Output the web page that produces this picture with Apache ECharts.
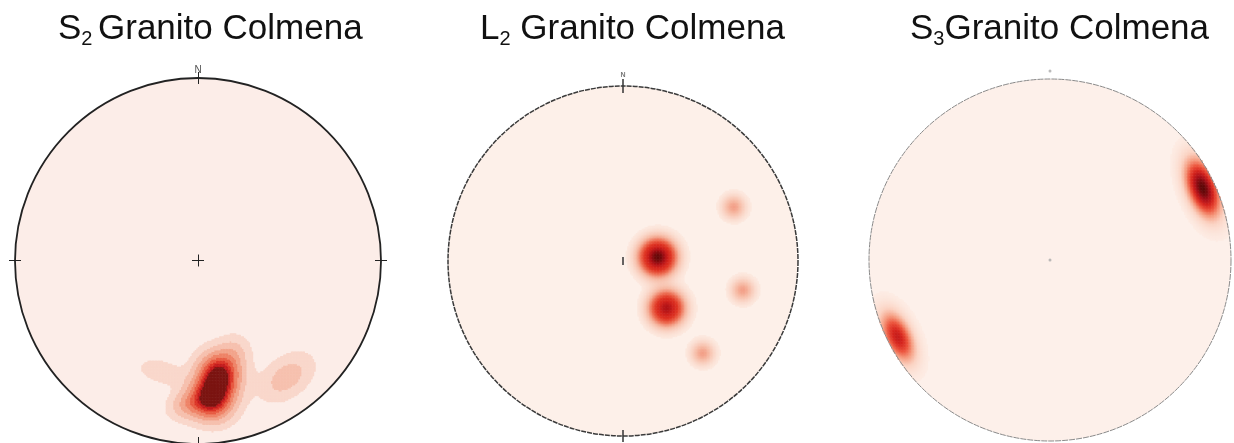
<!DOCTYPE html>
<html>
<head>
<meta charset="utf-8">
<title>Granito Colmena - stereonets</title>
<script src="https://cdn.jsdelivr.net/npm/echarts@6/dist/echarts.min.js"></script>
<style>
html, body { margin: 0; padding: 0; background: #fff; }
#main { width: 1234px; height: 443px; }
</style>
</head>
<body>
<div id="main"></div>
<script type="text/javascript">
// pole clusters read off the nets: [u, v, sigma along, sigma across, rotation deg, weight]
// u/v are unit-circle coords (centre 0,0, primitive circle radius 1, north up)
var s2Clusters = [
    [0.128, -0.581, 0.07, 0.08, 74, 1.0],
    [0.109, -0.652, 0.07, 0.08, 74, 1.0],
    [0.088, -0.725, 0.07, 0.08, 74, 1.0],
    [0.069, -0.794, 0.07, 0.08, 74, 1.0],
    [-0.055, -0.787, 0.075, 0.055, 20, 0.55],
    [0.202, -0.486, 0.06, 0.06, 0, 0.3],
    [-0.200, -0.610, 0.09, 0.045, -15, 0.3],
    [0.486, -0.639, 0.11, 0.07, 38, 0.5]
];
var l2Clusters = [
    [0.200, 0.023, 0.065, 0.065, 0, 1.0],
    [0.251, -0.269, 0.063, 0.063, 0, 0.8],
    [0.634, 0.309, 0.045, 0.045, 0, 0.22],
    [0.686, -0.166, 0.045, 0.045, 0, 0.22],
    [0.457, -0.526, 0.045, 0.045, 0, 0.22]
];
var s3Clusters = [
    [0.845, 0.398, 0.11, 0.055, 110, 1.0],
    [-0.840, -0.425, 0.10, 0.052, 115, 0.72]
];

// S2 is contoured in discrete levels (fraction of max density)
var s2Levels = [0.06, 0.15, 0.26, 0.37, 0.48, 0.58, 0.66, 0.74];
var s2Colors = ['#f9d7cb', '#f6c0ae', '#f2a48b', '#ee8367', '#e75b42', '#da3326', '#c11a1c', '#7b1411'];
// L2 and S3 are smooth
var l2Colors = ['#fdefe7', '#f6b9a3', '#ec6a4f', '#df3523', '#d0221c', '#a90f15', '#650808'];
var s3Colors = ['#fdefe8', '#fbd3c3', '#f59c80', '#ec553d', '#d5241d', '#a8101a', '#5c0707'];

var N = 240;
var cats = [];
for (var k = 0; k < N; k++) cats.push(String(k));

function density(clusters, u, v) {
    var s = 0;
    for (var i = 0; i < clusters.length; i++) {
        var c = clusters[i];
        var t = c[4] * Math.PI / 180;
        var dx = u - c[0], dy = v - c[1];
        var a = dx * Math.cos(t) + dy * Math.sin(t);
        var b = -dx * Math.sin(t) + dy * Math.cos(t);
        s += c[5] * Math.exp(-0.5 * (a * a / (c[2] * c[2]) + b * b / (c[3] * c[3])));
    }
    return s;
}

function densityCells(clusters, minLevel) {
    var raw = [], max = 0;
    for (var i = 0; i < N; i++) {
        for (var j = 0; j < N; j++) {
            var u = -1 + (i + 0.5) * 2 / N, v = -1 + (j + 0.5) * 2 / N;
            if (u * u + v * v > 1) continue;
            var d = density(clusters, u, v);
            if (d > max) max = d;
            raw.push([i, j, d]);
        }
    }
    var out = [];
    raw.forEach(function (c) {
        var val = c[2] / max;
        if (val >= minLevel) out.push([c[0], c[1], +val.toFixed(4)]);
    });
    return out;
}

var nets = [
    {cx: 198, cy: 261, r: 183, bg: '#fcede8', ring: '#222', ringW: 1.8, ringType: 'solid'},
    {cx: 623, cy: 261, r: 175, bg: '#fdf0e9', ring: '#3a3a3a', ringW: 1.5, ringType: [5, 1]},
    {cx: 1050, cy: 260, r: 181, bg: '#fdf0ea', ring: '#8a8a8a', ringW: 1, ringType: [6, 1]}
];

// short segments crossing the primitive / centre cross, half length in px
function tickSegs(net, marks) {
    var out = [];
    marks.forEach(function (m) {
        var h = m[2] / net.r;
        if (m[3] === 'v') out.push({coords: [[m[0], m[1] - h], [m[0], m[1] + h]]});
        else out.push({coords: [[m[0] - h, m[1]], [m[0] + h, m[1]]]});
    });
    return out;
}

var grid = [], xAxis = [], yAxis = [], polar = [], radiusAxis = [], angleAxis = [];
nets.forEach(function (n, k) {
    var rect = {left: n.cx - n.r, top: n.cy - n.r, width: 2 * n.r, height: 2 * n.r};
    grid.push(rect, Object.assign({}, rect));
    xAxis.push({type: 'category', gridIndex: 2 * k, data: cats, show: false},
               {type: 'value', gridIndex: 2 * k + 1, min: -1, max: 1, show: false});
    yAxis.push({type: 'category', gridIndex: 2 * k, data: cats, show: false},
               {type: 'value', gridIndex: 2 * k + 1, min: -1, max: 1, show: false});
    polar.push({center: [n.cx, n.cy], radius: n.r});
    radiusAxis.push({
        polarIndex: k, min: 0, max: 1, interval: 1, z: 0,
        axisLine: {show: false}, axisTick: {show: false}, axisLabel: {show: false},
        splitLine: {show: false},
        splitArea: {show: true, areaStyle: {color: [n.bg]}}
    });
    angleAxis.push({
        polarIndex: k, min: 0, max: 360, startAngle: 90, z: 10,
        axisLine: {show: true, lineStyle: {color: n.ring, width: n.ringW, type: n.ringType}},
        axisTick: {show: false}, axisLabel: {show: false}, splitLine: {show: false}
    });
});

var s2Pieces = s2Levels.map(function (lv, i) {
    return {gte: lv, lt: i < s2Levels.length - 1 ? s2Levels[i + 1] : 1.01, color: s2Colors[i]};
});

function heat(k, clusters, minLevel) {
    return {
        type: 'heatmap', xAxisIndex: 2 * k, yAxisIndex: 2 * k, z: 2,
        progressive: 0, silent: true,
        data: densityCells(clusters, minLevel)
    };
}

var titleRich = {
    m: {fontFamily: 'Liberation Sans', fontSize: 35, fontWeight: 'normal', lineHeight: 40, color: '#111'},
    s: {fontFamily: 'Liberation Sans', fontSize: 20, fontWeight: 'normal', lineHeight: 15, verticalAlign: 'bottom', color: '#111'}
};

var option = {
    animation: false,
    backgroundColor: '#fff',
    title: [
        {text: '{m|S}{s|2 }{m|Granito Colmena}', left: 53, top: 4},
        {text: '{m|L}{s|2}{m| Granito Colmena}', left: 475, top: 4},
        {text: '{m|S}{s|3}{m|Granito Colmena}', left: 905, top: 4}
    ].map(function (t) {
        t.textStyle = {fontWeight: 'normal', rich: titleRich};
        return t;
    }),
    grid: grid, xAxis: xAxis, yAxis: yAxis,
    polar: polar, radiusAxis: radiusAxis, angleAxis: angleAxis,
    visualMap: [
        {type: 'piecewise', seriesIndex: 0, dimension: 2, show: false, pieces: s2Pieces},
        {type: 'continuous', seriesIndex: 1, dimension: 2, show: false, min: 0, max: 1, inRange: {color: l2Colors}},
        {type: 'continuous', seriesIndex: 2, dimension: 2, show: false, min: 0, max: 1, inRange: {color: s3Colors}}
    ],
    series: [
        heat(0, s2Clusters, s2Levels[0]),
        heat(1, l2Clusters, 0.02),
        heat(2, s3Clusters, 0.02),
        {
            type: 'lines', coordinateSystem: 'cartesian2d', xAxisIndex: 1, yAxisIndex: 1,
            z: 11, silent: true, clip: false, lineStyle: {color: '#222', width: 1, opacity: 1},
            data: tickSegs(nets[0], [[0, 1, 6, 'v'], [0, -1, 6, 'v'], [-1, 0, 6, 'h'], [1, 0, 6, 'h'], [0, 0, 6, 'v'], [0, 0, 6, 'h']])
        },
        {
            type: 'lines', coordinateSystem: 'cartesian2d', xAxisIndex: 3, yAxisIndex: 3,
            z: 11, silent: true, clip: false, lineStyle: {color: '#333', width: 1.5, opacity: 1},
            data: tickSegs(nets[1], [[0, 1, 7, 'v'], [0, -1, 6, 'v'], [0, 0, 4, 'v']])
        },
        {
            type: 'scatter', xAxisIndex: 1, yAxisIndex: 1, z: 11, silent: true, clip: false,
            symbolSize: 1, itemStyle: {color: 'rgba(0,0,0,0)'},
            label: {show: true, position: 'inside', formatter: 'N', fontSize: 10, color: '#222', fontFamily: 'Liberation Sans'},
            data: [[0, 1.044]]
        },
        {
            type: 'scatter', xAxisIndex: 3, yAxisIndex: 3, z: 11, silent: true, clip: false,
            symbolSize: 1, itemStyle: {color: 'rgba(0,0,0,0)'},
            label: {show: true, position: 'inside', formatter: 'N', fontSize: 7, fontWeight: 'bold', color: '#555', fontFamily: 'Liberation Sans'},
            data: [[0, 1.063]]
        },
        {
            type: 'scatter', xAxisIndex: 5, yAxisIndex: 5, z: 11, silent: true, clip: false,
            symbolSize: 3, itemStyle: {color: '#aaa'},
            data: [[0, 1.044], [0, 0]]
        }
    ]
};

var chart = echarts.init(document.getElementById('main'));
chart.setOption(option);
</script>
</body>
</html>
